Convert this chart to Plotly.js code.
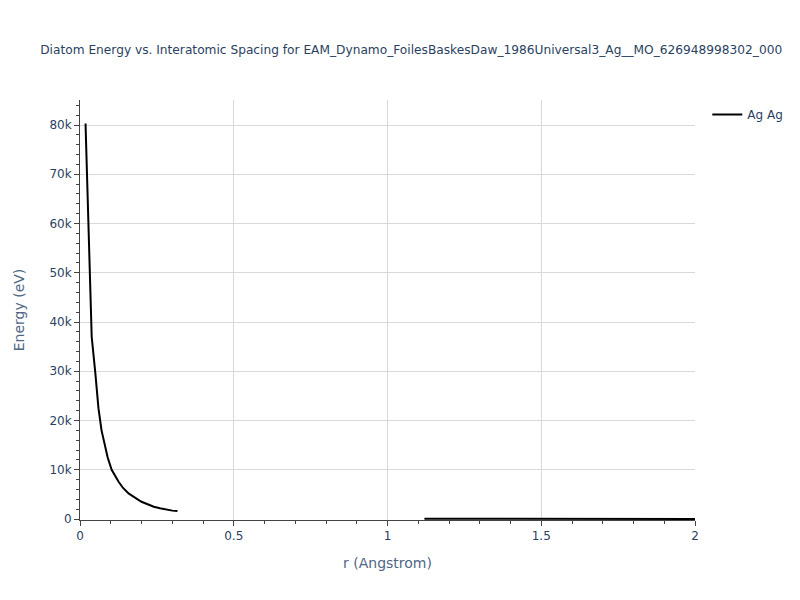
<!DOCTYPE html>
<html>
<head>
<meta charset="utf-8">
<script src="https://cdn.plot.ly/plotly-3.0.1.min.js"></script>
<style>html,body{margin:0;padding:0;background:#fff;}#chart{width:800px;height:600px;}</style>
</head>
<body>
<div id="chart"></div>
<script>
// Repulsive short-range segment (r in Angstrom, E in eV)
const rShort = [0.018, 0.038, 0.05, 0.06, 0.07, 0.082, 0.09, 0.103, 0.115, 0.125, 0.14, 0.158, 0.18, 0.2, 0.22, 0.24, 0.26, 0.28, 0.3, 0.317];
const eShort = [80300, 37000, 29500, 22500, 18000, 14500, 12500, 10000, 8600, 7600, 6300, 5200, 4300, 3500, 3000, 2500, 2200, 1900, 1700, 1600];
// Long-range segment near zero
const rLong = [1.12, 1.2, 1.3, 1.4, 1.5, 1.6, 1.7, 1.8, 1.9, 2.0];
const eLong = [60, 45, 32, 22, 15, 10, 6, 3, 1, 0];

const rAll = rShort.concat([null], rLong);
const eAll = eShort.concat([null], eLong);

const traces = [{
  x: rAll, y: eAll, type: 'scatter', mode: 'lines', name: 'Ag Ag',
  line: {color: '#000000', width: 2}, connectgaps: false
}];

const FONT = 'Verdana, "DejaVu Sans", sans-serif';

const axisCommon = {
  showline: true, linecolor: '#444', linewidth: 1,
  ticks: 'outside', ticklen: 5, tickcolor: '#444',
  showgrid: true, gridcolor: '#d9d9d9', zeroline: false,
  tickfont: {family: FONT, size: 12, color: '#2a3f5f'}
};

const layout = {
  width: 800, height: 600,
  paper_bgcolor: '#fff', plot_bgcolor: '#fff',
  font: {family: FONT, color: '#2a3f5f'},
  title: {text: 'Diatom Energy vs. Interatomic Spacing for EAM_Dynamo_FoilesBaskesDaw_1986Universal3_Ag__MO_626948998302_000', font: {family: FONT, size: 12.2, color: '#2a3f5f'}, x: 0.514, y: 0.925},
  margin: {l: 80, r: 80, t: 100, b: 80},
  xaxis: Object.assign({}, axisCommon, {
    title: {text: 'r (Angstrom)', font: {family: FONT, size: 14, color: '#506784'}, standoff: 15},
    range: [0, 2], dtick: 0.5,
    minor: {dtick: 0.1, ticks: 'outside', ticklen: 3, tickcolor: '#444', showgrid: false}
  }),
  yaxis: Object.assign({}, axisCommon, {
    title: {text: 'Energy (eV)', font: {family: FONT, size: 14, color: '#506784'}, standoff: 21},
    range: [-203, 85076], dtick: 10000,
    minor: {dtick: 2000, ticks: 'outside', ticklen: 3, tickcolor: '#444', showgrid: false}
  }),
  legend: {x: 1.02, y: 1, xanchor: 'left', yanchor: 'top', font: {family: FONT, size: 12, color: '#2a3f5f'}},
  showlegend: true
};

Plotly.newPlot('chart', traces, layout, {displayModeBar: false});
</script>
</body>
</html>
